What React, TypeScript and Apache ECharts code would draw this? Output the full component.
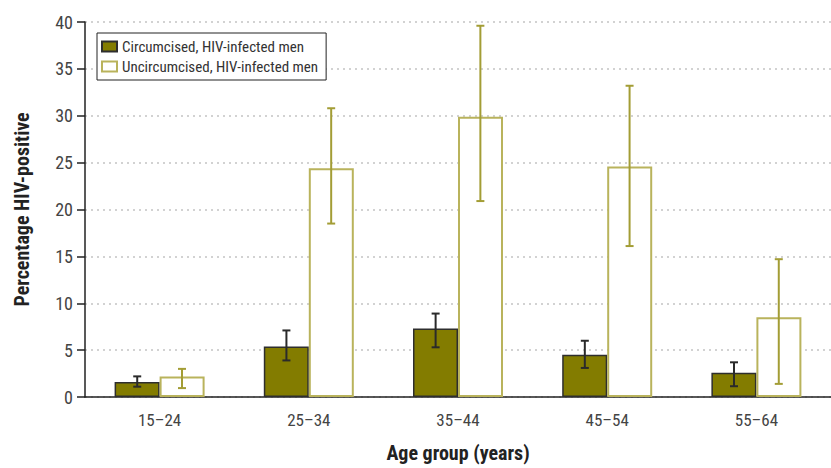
import React, { useEffect, useRef } from "react";
import * as echarts from "echarts";

const categories = ["15–24", "25–34", "35–44", "45–54", "55–64"];
const circumcised = [1.6, 5.4, 7.3, 4.5, 2.6];
const circumcisedLow = [1.1, 3.9, 5.3, 3.1, 1.15];
const circumcisedHigh = [2.2, 7.1, 8.9, 6.0, 3.7];
const uncircumcised = [2.2, 24.4, 29.9, 24.6, 8.5];
const uncircumcisedLow = [0.95, 18.5, 20.9, 16.1, 1.4];
const uncircumcisedHigh = [3.0, 30.8, 39.6, 33.2, 14.7];
const yTicks = { min: 0, max: 40, interval: 5 };

const FONT = "'Roboto Condensed', Roboto, sans-serif";
const OLIVE = "#837c00";
const OLIVE_LIGHT = "#b9b35c";
const OLIVE_ERR = "#a39d35";

function errorSeries(low: number[], high: number[], side: number, color: string) {
  return {
    type: "custom",
    silent: true,
    z: 5,
    data: categories.map((c, i) => [i, low[i], high[i]]),
    renderItem: (params: any, api: any) => {
      const i = api.value(0);
      const band = api.size([1, 0])[0];
      const off = side * band * 0.15;
      const lo = api.coord([i, api.value(1)]);
      const hi = api.coord([i, api.value(2)]);
      const x = lo[0] + off;
      const cap = 4;
      const style = { stroke: color, lineWidth: 2, fill: "none" };
      return {
        type: "group",
        children: [
          { type: "line", shape: { x1: x, y1: lo[1], x2: x, y2: hi[1] }, style },
          { type: "line", shape: { x1: x - cap, y1: lo[1], x2: x + cap, y2: lo[1] }, style },
          { type: "line", shape: { x1: x - cap, y1: hi[1], x2: x + cap, y2: hi[1] }, style },
        ],
      };
    },
  };
}

export default function App() {
  const ref = useRef<HTMLDivElement>(null);
  useEffect(() => {
    document.body.style.margin = "0";
    const chart = echarts.init(ref.current!, null, { renderer: "svg" });
    chart.setOption({
      animation: false,
      backgroundColor: "#ffffff",
      textStyle: { fontFamily: FONT },
      grid: { left: 85, right: -5, top: 22, bottom: 65, containLabel: false },
      legend: {
        data: ["Circumcised, HIV-infected men", "Uncircumcised, HIV-infected men"],
        orient: "vertical",
        left: 97,
        top: 33,
        backgroundColor: "#ffffff",
        borderColor: "#222",
        borderWidth: 1,
        borderRadius: 0,
        padding: [6, 8, 6, 4],
        itemWidth: 15,
        itemHeight: 10,
        itemGap: 5,
        icon: "rect",
        textStyle: { fontFamily: FONT, fontSize: 15, color: "#333" },
      },
      xAxis: {
        type: "category",
        data: categories,
        axisLine: { lineStyle: { color: "#222", width: 1.5 } },
        axisTick: { show: false },
        axisLabel: { fontFamily: FONT, fontSize: 17, color: "#444", margin: 14 },
        name: "Age group (years)",
        nameLocation: "middle",
        nameGap: 46,
        nameTextStyle: { fontFamily: FONT, fontSize: 20, fontWeight: "bold", color: "#222" },
      },
      yAxis: {
        type: "value",
        min: yTicks.min,
        max: yTicks.max,
        interval: yTicks.interval,
        axisLine: { show: true, lineStyle: { color: "#222", width: 1.5 } },
        axisTick: { show: true, inside: false, length: 8, lineStyle: { color: "#222", width: 1.5 } },
        axisLabel: { fontFamily: FONT, fontSize: 18, color: "#444", margin: 12 },
        splitLine: { show: true, lineStyle: { color: "#c4c4c4", type: [2, 4], width: 1.5 } },
        name: "Percentage HIV-positive",
        nameLocation: "middle",
        nameGap: 53,
        nameTextStyle: { fontFamily: FONT, fontSize: 20, fontWeight: "bold", color: "#222" },
      },
      series: [
        {
          name: "Circumcised, HIV-infected men",
          type: "bar",
          data: circumcised,
          barWidth: 45,
          barGap: "0%",
          itemStyle: { color: OLIVE, borderColor: "#2e2e2e", borderWidth: 1.5 },
        },
        {
          name: "Uncircumcised, HIV-infected men",
          type: "bar",
          data: uncircumcised,
          barWidth: 45,
          barGap: "0%",
          itemStyle: { color: "#ffffff", borderColor: OLIVE_LIGHT, borderWidth: 2 },
        },
        errorSeries(circumcisedLow, circumcisedHigh, -1, "#2a2a2a"),
        errorSeries(uncircumcisedLow, uncircumcisedHigh, 1, OLIVE_ERR),
      ],
    });
    return () => chart.dispose();
  }, []);
  return <div ref={ref} style={{ width: 831, height: 468 }} />;
}
